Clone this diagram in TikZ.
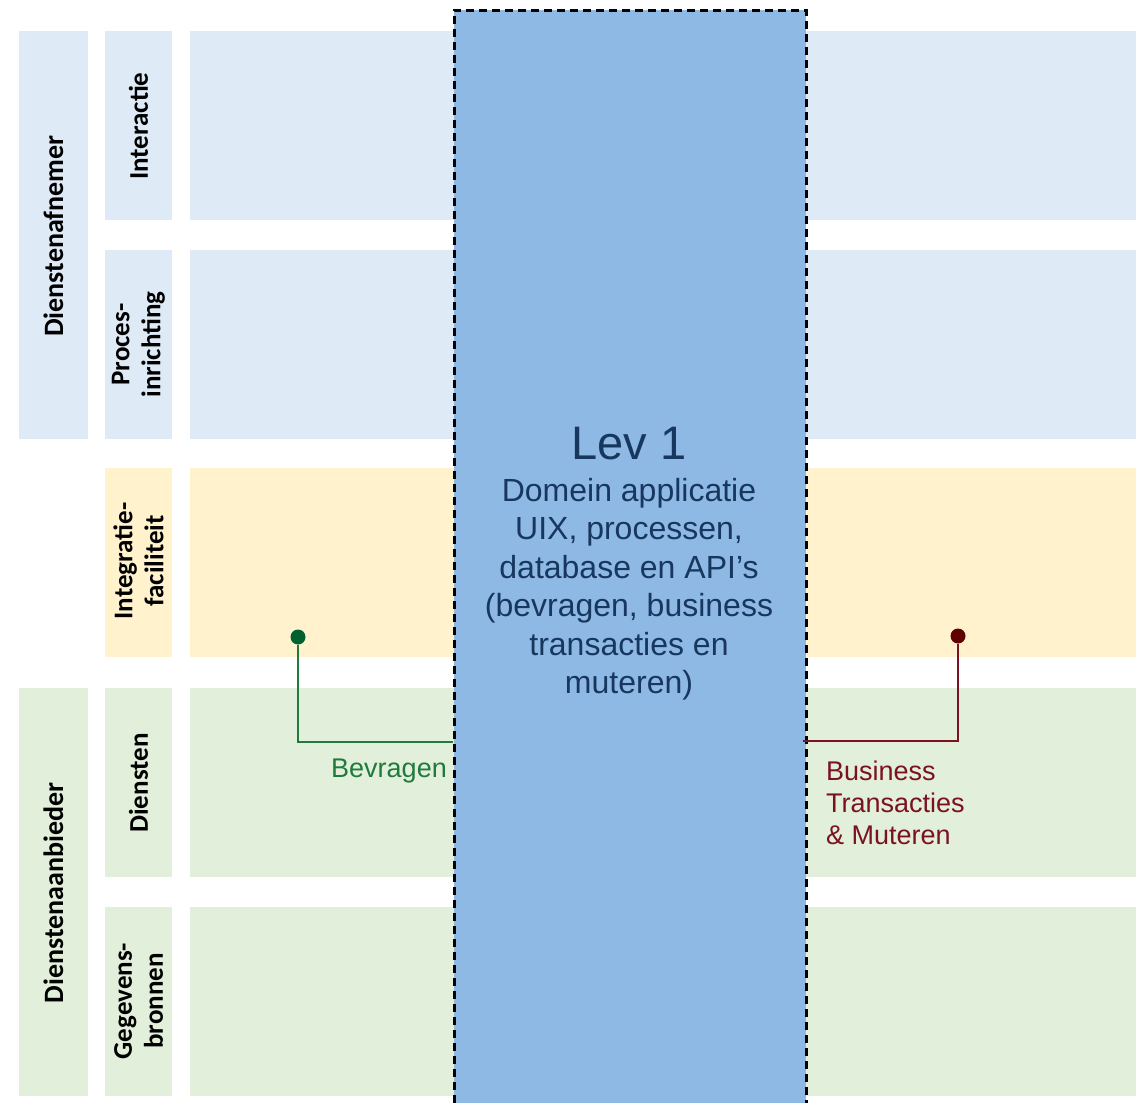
\documentclass[tikz,border=0pt]{standalone}
\usepackage{fontspec}
\setmainfont{Liberation Sans}
\newfontfamily\calibri{Carlito}

\definecolor{afnemer}{HTML}{DEEAF6}
\definecolor{integratie}{HTML}{FFF2CC}
\definecolor{aanbieder}{HTML}{E2EFDA}
\definecolor{levblue}{HTML}{8EB9E4}
\definecolor{levtext}{HTML}{17375E}
\definecolor{bvtext}{HTML}{1E7B3C}
\definecolor{bvdot}{HTML}{006030}
\definecolor{bttext}{HTML}{7A1222}
\definecolor{btdot}{HTML}{600000}

\begin{document}
\begin{tikzpicture}[x=1pt,y=-1pt,
  lane/.style={font=\calibri\bfseries\fontsize{27}{31}\selectfont, rotate=90, align=center, inner sep=0pt},
  dot/.style={circle, inner sep=0pt, minimum size=15pt},
  label/.style={font=\fontsize{27}{32}\selectfont, inner sep=0pt, align=left}]
	\useasboundingbox (0,0) rectangle (1136,1103);

	% lanes
	\fill[afnemer] (19,31) rectangle (88,439);
	\fill[aanbieder] (19,688) rectangle (88,1096);
	\fill[afnemer] (105,31) rectangle (172,220);
	\fill[afnemer] (105,250) rectangle (172,439);
	\fill[integratie] (105,468) rectangle (172,657);
	\fill[aanbieder] (105,688) rectangle (172,877);
	\fill[aanbieder] (105,907) rectangle (172,1096);
	\fill[afnemer] (190,31) rectangle (1136,220);
	\fill[afnemer] (190,250) rectangle (1136,439);
	\fill[integratie] (190,468) rectangle (1136,657);
	\fill[aanbieder] (190,688) rectangle (1136,877);
	\fill[aanbieder] (190,907) rectangle (1136,1096);

	\node[lane, font=\calibri\bfseries\fontsize{28}{31}\selectfont] (afnemer) at (53.5,236) {Dienstenafnemer};
	\node[lane, font=\calibri\bfseries\fontsize{28}{31}\selectfont] (aanbieder) at (53.5,893) {Dienstenaanbieder};
	\node[lane] (interactie) at (138.5,126) {Interactie};
	\node[lane] (proces) at (138.5,344.5) {Proces-\\inrichting};
	\node[lane] (integratie) at (138.5,561) {Integratie-\\faciliteit};
	\node[lane] (diensten) at (138.5,783) {Diensten};
	\node[lane] (gegevens) at (138.5,1001) {Gegevens-\\bronnen};

	% applicatie
	\node[draw, line width=2.6pt, dash pattern=on 8pt off 5pt, fill=levblue,
	      minimum width=352pt, minimum height=1110pt, anchor=north west] (lev) at (453,9) {};
	\node[text=levtext, font=\fontsize{47}{50}\selectfont, anchor=base] (levtitle) at (629,459) {Lev 1};
	\node[text=levtext, font=\fontsize{32}{38.5}\selectfont, align=center, inner sep=0pt, anchor=north] (levbody) at (629,478)
	  {Domein applicatie\\UIX, processen,\\database en API’s\\(bevragen, business\\transacties en\\muteren)};

	% bevragen
	\node[dot, fill=bvdot] (bdot) at (298,637) {};
	\coordinate (bend) at (453,742);
	\draw[bvtext, line width=1.5pt] (bdot) |- (bend);
	\node[label, text=bvtext, anchor=base east] (bevragen) at (447,777) {Bevragen};

	% business transacties
	\node[dot, fill=btdot] (tdot) at (958,636) {};
	\coordinate (tend) at (803,741);
	\draw[bttext, line width=1.5pt] (tdot) |- (tend);
	\node[label, text=bttext, anchor=north west] (business) at (826,761) {Business\\Transacties\\\& Muteren};
\end{tikzpicture}
\end{document}
